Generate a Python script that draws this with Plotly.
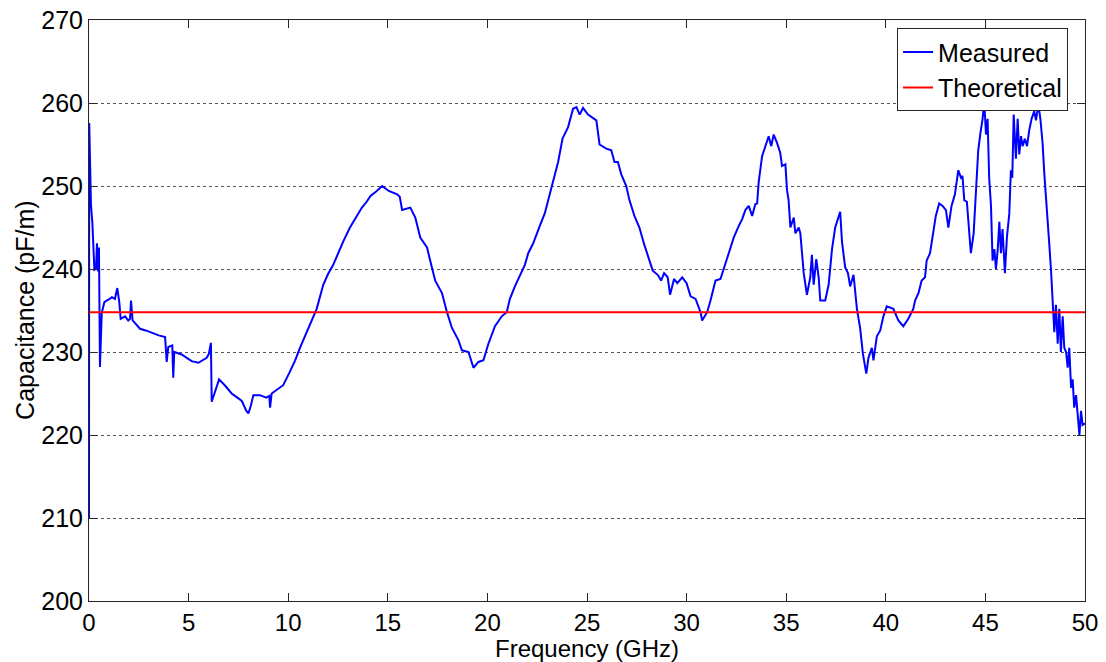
import plotly.graph_objects as go

# Measured capacitance per unit length vs. frequency
freq_ghz = [
    0.00, 0.01, 0.10, 0.17, 0.27, 0.35, 0.40, 0.45, 0.50, 0.55, 0.64, 0.77, 0.97, 1.15, 1.30,
    1.42, 1.52, 1.59, 1.81, 1.97, 2.06, 2.11, 2.19, 2.31, 2.56, 2.85, 3.15, 3.50, 3.82, 3.90,
    3.98, 4.18, 4.23, 4.28, 4.65, 5.15, 5.49, 5.91, 6.02, 6.12, 6.16, 6.53, 6.85, 7.16, 7.45,
    7.67, 7.90, 8.00, 8.12, 8.25, 8.58, 8.90, 9.05, 9.09, 9.17, 9.45, 9.75, 10.08, 10.35, 10.59,
    10.85, 11.10, 11.43, 11.76, 12.00, 12.26, 12.50, 12.76, 13.10, 13.43, 13.70, 13.94, 14.13, 14.40, 14.72,
    15.05, 15.47, 15.60, 15.72, 16.13, 16.38, 16.63, 16.97, 17.13, 17.38, 17.72, 17.97, 18.22, 18.55, 18.72,
    19.05, 19.30, 19.55, 19.80, 20.05, 20.38, 20.72, 20.97, 21.13, 21.38, 21.63, 21.88, 22.05, 22.30, 22.63,
    22.88, 23.13, 23.30, 23.55, 23.77, 24.05, 24.30, 24.47, 24.63, 24.80, 25.05, 25.22, 25.47, 25.63, 25.97,
    26.22, 26.38, 26.55, 26.72, 26.97, 27.13, 27.38, 27.63, 27.88, 28.13, 28.30, 28.55, 28.72, 28.87, 29.05,
    29.17, 29.37, 29.53, 29.78, 30.00, 30.20, 30.45, 30.70, 30.78, 31.03, 31.20, 31.45, 31.70, 31.87, 32.04,
    32.20, 32.37, 32.62, 32.79, 32.95, 33.12, 33.29, 33.45, 33.54, 33.62, 33.79, 33.96, 34.12, 34.25, 34.37,
    34.54, 34.70, 34.79, 34.96, 35.04, 35.12, 35.21, 35.38, 35.46, 35.63, 35.71, 35.88, 36.04, 36.21, 36.29,
    36.38, 36.51, 36.63, 36.71, 36.96, 37.13, 37.30, 37.46, 37.71, 37.80, 37.96, 38.10, 38.21, 38.38, 38.55,
    38.71, 38.85, 39.02, 39.13, 39.30, 39.38, 39.55, 39.72, 39.88, 40.05, 40.38, 40.63, 40.88, 41.13, 41.38,
    41.47, 41.64, 41.80, 41.97, 42.05, 42.22, 42.39, 42.51, 42.68, 42.85, 43.02, 43.14, 43.30, 43.47, 43.64,
    43.77, 43.85, 43.94, 44.07, 44.19, 44.27, 44.41, 44.52, 44.64, 44.74, 44.86, 44.94, 45.03, 45.11, 45.19,
    45.28, 45.36, 45.45, 45.53, 45.62, 45.70, 45.78, 45.86, 45.98, 46.08, 46.20, 46.28, 46.35, 46.42, 46.53,
    46.62, 46.70, 46.79, 46.87, 46.98, 47.09, 47.20, 47.32, 47.45, 47.54, 47.66, 47.76, 47.87, 47.96, 48.04,
    48.12, 48.21, 48.29, 48.38, 48.46, 48.54, 48.63, 48.71, 48.79, 48.88, 48.96, 49.05, 49.13, 49.21, 49.30,
    49.38, 49.46, 49.55, 49.63, 49.72, 49.80, 49.88, 50.00,
]

measured_pf_per_m = [
    210.0, 257.6, 247.7, 245.5, 239.9, 240.0, 243.1, 239.7, 242.6, 228.2, 234.7, 236.0, 236.3, 236.6, 236.4,
    237.7, 236.0, 234.0, 234.3, 233.8, 234.0, 236.2, 233.8, 233.5, 232.8, 232.6, 232.3, 232.0, 231.8, 228.8,
    230.6, 230.8, 226.9, 230.0, 229.7, 228.9, 228.7, 229.3, 229.8, 231.1, 224.0, 226.7, 225.9, 225.0, 224.5,
    224.1, 222.9, 222.6, 223.5, 224.8, 224.8, 224.5, 224.7, 223.3, 225.0, 225.5, 226.0, 227.6, 229.0, 230.5,
    232.0, 233.3, 235.2, 238.1, 239.4, 240.5, 241.9, 243.3, 245.0, 246.4, 247.4, 248.1, 248.8, 249.3, 250.0,
    249.4, 249.0, 248.7, 247.1, 247.4, 246.2, 243.8, 242.6, 241.0, 238.6, 237.1, 234.8, 232.9, 231.4, 230.2,
    230.0, 228.1, 228.8, 229.0, 231.0, 233.1, 234.3, 234.8, 236.4, 237.9, 239.3, 240.5, 241.9, 243.1, 245.2,
    246.7, 249.0, 250.5, 252.9, 255.7, 257.1, 259.3, 259.5, 258.6, 259.4, 258.6, 258.3, 257.9, 255.0, 254.5,
    254.3, 252.9, 252.9, 251.4, 250.0, 248.3, 246.4, 245.0, 242.9, 241.0, 239.8, 239.3, 238.6, 239.5, 239.0,
    236.9, 238.8, 238.3, 239.0, 238.3, 236.7, 236.4, 234.8, 233.8, 234.8, 236.2, 238.6, 238.8, 240.0, 241.2,
    242.4, 243.8, 245.2, 246.0, 247.1, 247.6, 246.4, 247.8, 247.9, 250.5, 253.6, 254.8, 256.0, 254.8, 256.2,
    255.2, 254.0, 252.4, 252.6, 249.5, 248.3, 245.0, 246.2, 244.3, 245.0, 244.3, 239.5, 236.9, 239.0, 241.7,
    238.1, 241.2, 239.0, 236.2, 236.2, 238.1, 242.4, 245.0, 246.9, 243.3, 240.2, 239.5, 237.9, 239.3, 235.2,
    232.9, 229.8, 227.4, 229.3, 230.5, 229.0, 231.9, 232.6, 234.3, 235.5, 235.2, 233.8, 233.1, 234.0, 235.2,
    236.2, 237.1, 238.6, 239.0, 241.0, 241.9, 244.3, 246.4, 247.9, 247.6, 247.1, 245.0, 247.6, 249.0, 251.9,
    251.0, 251.2, 248.3, 248.1, 244.3, 241.9, 244.3, 248.8, 254.3, 256.2, 258.1, 260.2, 256.2, 258.1, 251.0,
    247.6, 241.0, 242.4, 240.0, 242.4, 245.7, 241.9, 244.8, 239.5, 243.8, 246.7, 251.9, 251.0, 258.6, 253.3,
    258.1, 253.8, 256.0, 254.8, 255.7, 254.8, 256.7, 258.1, 259.0, 257.9, 259.8, 258.1, 255.2, 251.4, 249.0,
    245.7, 242.9, 240.0, 236.7, 232.4, 235.7, 231.0, 235.2, 230.0, 234.3, 230.5, 230.0, 228.1, 230.5, 225.7,
    226.7, 223.3, 224.8, 221.9, 220.0, 222.9, 221.2, 221.4,
]

# Theoretical value (flat across the band)
theory_freq_ghz = [0, 50]
theory_pf_per_m = [234.8, 234.8]

x_ticks = [0, 5, 10, 15, 20, 25, 30, 35, 40, 45, 50]
y_ticks = [200, 210, 220, 230, 240, 250, 260, 270]

FONT = "Liberation Sans, Arial, sans-serif"
AXIS_COLOR = "#262626"
TEXT_SIZE = 25
X_TEXT_SIZE = 24

fig = go.Figure()
fig.add_trace(go.Scatter(
    x=freq_ghz, y=measured_pf_per_m, mode="lines", name="Measured",
    line=dict(color="#0000ff", width=2),
))
fig.add_trace(go.Scatter(
    x=theory_freq_ghz, y=theory_pf_per_m, mode="lines", name="Theoretical",
    line=dict(color="#ff0000", width=2),
))

fig.update_layout(
    width=1106, height=662,
    margin=dict(l=89, r=21, t=20, b=61),
    paper_bgcolor="white", plot_bgcolor="white",
    font=dict(family=FONT, size=TEXT_SIZE, color="black"),
    showlegend=True,
    legend=dict(
        x=0.983, y=0.986, xanchor="right", yanchor="top",
        bgcolor="white", bordercolor=AXIS_COLOR, borderwidth=1,
        font=dict(family=FONT, size=TEXT_SIZE, color="black"),
        tracegroupgap=0, itemwidth=30,
    ),
    annotations=[
        dict(text="Frequency (GHz)", xref="paper", yref="paper",
             x=0.5, y=-0.0809, xanchor="center", yanchor="middle",
             showarrow=False, font=dict(family=FONT, size=X_TEXT_SIZE, color="black")),
        dict(text="Capacitance (pF/m)", xref="paper", yref="paper",
             x=-0.0643, y=0.501, xanchor="center", yanchor="middle", textangle=-90,
             showarrow=False, font=dict(family=FONT, size=TEXT_SIZE, color="black")),
    ],
)

fig.update_xaxes(
    range=[0, 50], tickvals=x_ticks, ticktext=[str(v) for v in x_ticks],
    automargin=False,
    showgrid=False, zeroline=False,
    showline=True, linecolor=AXIS_COLOR, linewidth=1, mirror="ticks",
    ticks="inside", ticklen=8, tickcolor=AXIS_COLOR,
    tickfont=dict(family=FONT, size=X_TEXT_SIZE, color="black"),
)
fig.update_yaxes(
    range=[200, 270], tickvals=y_ticks, ticktext=[str(v) for v in y_ticks],
    automargin=False,
    showgrid=True, gridcolor="#555555", griddash="dot", gridwidth=1,
    zeroline=False,
    showline=True, linecolor=AXIS_COLOR, linewidth=1, mirror="ticks",
    ticks="inside", ticklen=8, tickcolor=AXIS_COLOR,
    tickfont=dict(family=FONT, size=TEXT_SIZE, color="black"),
)

fig.write_html("out.html")
